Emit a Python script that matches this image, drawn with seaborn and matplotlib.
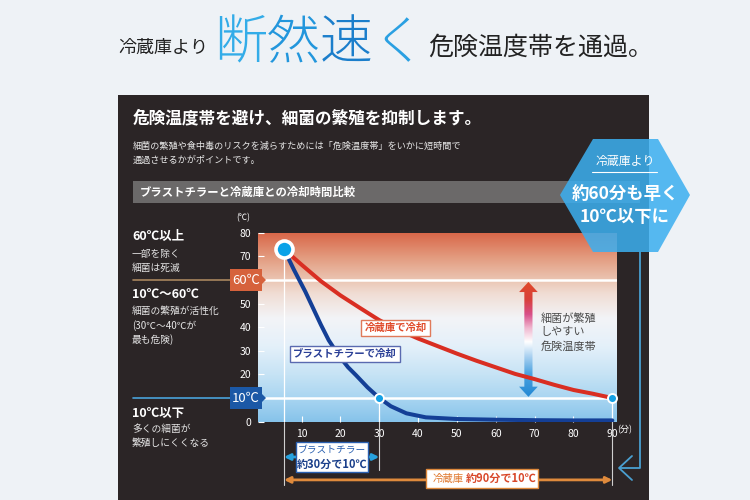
import numpy as np
import matplotlib
matplotlib.use("Agg")
import matplotlib.pyplot as plt
import seaborn as sns
from matplotlib.patches import Rectangle, Polygon
from matplotlib.colors import LinearSegmentedColormap
from matplotlib.lines import Line2D

sns.set_style("white")
plt.rcParams['font.family'] = ['Noto Sans CJK JP', 'DejaVu Sans']

# ---------------- data ----------------
fridge_min = [5.5, 10, 15, 20, 25, 30, 35, 40, 45, 50, 55, 60, 65, 70, 75, 80, 85, 90]
fridge_temp = [73, 66.5, 59.5, 53.5, 48.2, 43, 38.8, 35.2, 32, 28.8, 25.8, 23, 20.2, 18, 15.6, 13.4, 11.8, 10]
chiller_min = [5.5, 8, 11, 13, 15, 17, 19.5, 22, 24, 27, 30, 33, 37, 42, 50, 60, 70, 80, 90]
chiller_temp = [73, 64.5, 55, 48, 41, 34.5, 28.2, 23, 19.7, 14.5, 10, 6.5, 3.5, 1.8, 1.1, 0.8, 0.6, 0.5, 0.5]
x_ticks = [10, 20, 30, 40, 50, 60, 70, 80, 90]
y_ticks = [0, 20, 30, 40, 50, 70, 80]
start_min, start_temp = 5.5, 73
chiller_end, fridge_end, target_temp = 30, 90, 10
upper_temp = 60
headline_chars = ["断", "然", "速", "く"]
headline_colors = ['#33ace8', '#2296dc', '#1b7ecb', '#2aa0e2']

W, H = 750, 500
fig = plt.figure(figsize=(7.5, 5), dpi=100)
fig.patch.set_facecolor('#eef2f6')


def P(x, y):
    return (x / W, 1 - y / H)


def rect_px(x0, y0, x1, y1, **kw):
    r = Rectangle(P(x0, y1), (x1 - x0) / W, (y1 - y0) / H, transform=fig.transFigure, **kw)
    fig.add_artist(r)
    return r


def poly_px(pts, **kw):
    p = Polygon([P(x, y) for x, y in pts], closed=True, transform=fig.transFigure, **kw)
    fig.add_artist(p)
    return p


def line_px(xs, ys, **kw):
    l = Line2D([x / W for x in xs], [1 - y / H for y in ys], transform=fig.transFigure, **kw)
    fig.add_artist(l)
    return l


def text_px(x, y, s, **kw):
    return fig.text(x / W, 1 - y / H, s, **kw)


# ---------------- title ----------------
text_px(118, 48, "冷蔵庫より", fontsize=13, color='#222222', va='center', ha='left')
for i, (ch, col) in enumerate(zip(headline_chars, headline_colors)):
    text_px(214 + i * 53, 44, ch, fontsize=38, fontweight='light', color=col,
            va='center', ha='left')
text_px(428, 48, "危険温度帯を通過。", fontsize=18, color='#222222', va='center', ha='left')

# ---------------- dark panel ----------------
rect_px(118, 95, 649, 500, fc='#2b2526', ec='none', zorder=-5)
text_px(133, 118, "危険温度帯を避け、細菌の繁殖を抑制します。", fontsize=12, fontweight='bold',
        color='white', va='center')
text_px(133, 146, "細菌の繁殖や食中毒のリスクを減らすためには「危険温度帯」をいかに短時間で",
        fontsize=6.6, color='#e8e8e8', va='center')
text_px(133, 160, "通過させるかがポイントです。", fontsize=6.6, color='#e8e8e8', va='center')
rect_px(133, 181, 640, 203, fc='#6b6969', ec='none', zorder=-4)
text_px(140, 192, "ブラストチラーと冷蔵庫との冷却時間比較", fontsize=8.2, fontweight='bold',
        color='white', va='center')

# ---------------- left explanation ----------------
lc = '#e6e6e6'
text_px(132, 236, "60℃以上", fontsize=9, fontweight='bold', color='white', va='center')
text_px(132, 254, "一部を除く", fontsize=7, color=lc, va='center')
text_px(132, 268, "細菌は死滅", fontsize=7, color=lc, va='center')
text_px(132, 295, "10℃〜60℃", fontsize=9, fontweight='bold', color='white', va='center')
text_px(132, 311, "細菌の繁殖が活性化", fontsize=7, color=lc, va='center')
text_px(132, 326, "(30℃〜40℃が", fontsize=7, color=lc, va='center')
text_px(132, 340, "最も危険)", fontsize=7, color=lc, va='center')
text_px(132, 413, "10℃以下", fontsize=9, fontweight='bold', color='white', va='center')
text_px(132, 429, "多くの細菌が", fontsize=7, color=lc, va='center')
text_px(132, 443, "繁殖しにくくなる", fontsize=7, color=lc, va='center')

line_px([133, 231], [280, 280], color='#a8865e', lw=1.2)
line_px([133, 231], [398, 398], color='#4aa2da', lw=1.2)

# ---------------- chart axes ----------------
ax = fig.add_axes([258 / W, 1 - 421.6 / H, (617 - 258) / W, (421.6 - 232.8) / H])
ax.patch.set_alpha(0)
XL, XR, YB, YT = -1.2, 91.2, 0, 80

bg_cmap = LinearSegmentedColormap.from_list('bg', [
    (0.0, '#86c3ea'), (0.125, '#a9d5f1'), (0.25, '#c6e3f5'), (0.4, '#e4f0fa'),
    (0.55, '#f3f4f7'), (0.68, '#f0ddd4'), (0.75, '#ebc6b4'), (0.87, '#e39c80'),
    (1.0, '#d9684a')])
ax.imshow(np.linspace(0, 1, 256).reshape(-1, 1), extent=(XL, XR, YB, YT), origin='lower',
          cmap=bg_cmap, aspect='auto', zorder=0)

ax.axhline(upper_temp, color='white', lw=1.8, zorder=1)
ax.axhline(target_temp, color='white', lw=1.8, zorder=1)

# vertical guide lines
ax.plot([start_min, start_min], [0, start_temp], color='white', lw=0.9, zorder=1)
ax.plot([chiller_end, chiller_end], [0, target_temp], color='white', lw=0.9, zorder=1)
ax.plot([fridge_end, fridge_end], [0, target_temp], color='white', lw=0.9, zorder=1)
ax.plot([start_min, start_min], [-26.9, 0], color='#cfcfcf', lw=0.8, clip_on=False)
ax.plot([chiller_end, chiller_end], [-20.6, 0], color='#cfcfcf', lw=0.8, clip_on=False)
ax.plot([fridge_end, fridge_end], [-26.9, 0], color='#cfcfcf', lw=0.8, clip_on=False)

# danger zone gradient arrow
xc, hs, hh, hl, y0, y1 = 68.4, 1.05, 2.4, 4.3, 10.5, 59.2
arrow_poly = Polygon([(xc - hs, y0 + hl), (xc - hh, y0 + hl), (xc, y0), (xc + hh, y0 + hl),
                      (xc + hs, y0 + hl), (xc + hs, y1 - hl), (xc + hh, y1 - hl), (xc, y1),
                      (xc - hh, y1 - hl), (xc - hs, y1 - hl)], closed=True,
                     fc='none', ec='none', transform=ax.transData)
ax.add_patch(arrow_poly)
ar_cmap = LinearSegmentedColormap.from_list('ar', [
    (0.0, '#2288d4'), (0.2, '#4aa2e0'), (0.35, '#a8d0f0'), (0.48, '#ffffff'),
    (0.6, '#f0b8d0'), (0.72, '#d8508a'), (0.85, '#d8403a'), (1.0, '#e04a2a')])
im = ax.imshow(np.linspace(0, 1, 256).reshape(-1, 1), extent=(xc - hh, xc + hh, y0, y1),
               origin='lower', cmap=ar_cmap, aspect='auto', zorder=2)
im.set_clip_path(arrow_poly)
ax.text(71.5, 46.2, "細菌が繁殖\nしやすい\n危険温度帯", fontsize=8, color='#4a4a4a',
        va='top', ha='left', linespacing=1.45, zorder=3)

# curves
sns.lineplot(x=fridge_min, y=fridge_temp, ax=ax, color='#d92e22', lw=2.9, zorder=4)
sns.lineplot(x=chiller_min, y=chiller_temp, ax=ax, color='#143f96', lw=2.9, zorder=5)

# points
ax.scatter([start_min], [start_temp], s=150, color='#0aa2e8', edgecolor='white', lw=2.6,
           zorder=7, clip_on=False)
ax.scatter([chiller_end, fridge_end], [target_temp, target_temp], s=42, color='#14a0e4',
           edgecolor='white', lw=1.4, zorder=7, clip_on=False)

# curve labels
ax.text(34.2, 39.6, "冷蔵庫で冷却", fontsize=7.5, fontweight='bold', color='#e04a2a', ha='center',
        va='center', zorder=6,
        bbox=dict(boxstyle='square,pad=0.3', fc='white', ec='#e07a5a', lw=1))
ax.text(21.2, 28.6, "ブラストチラーで冷却", fontsize=7.5, fontweight='bold', color='#2a3f96',
        ha='center', va='center', zorder=6,
        bbox=dict(boxstyle='square,pad=0.3', fc='white', ec='#5a6ab0', lw=1))

# ticks
ax.set_xticks(x_ticks)
ax.set_xticklabels([str(v) for v in x_ticks])
ax.set_yticks(y_ticks)
ax.set_yticklabels([str(v) for v in y_ticks])
ax.tick_params(axis='both', which='both', direction='in', length=4, width=0.8, color='white',
               labelcolor='white', labelsize=7.5, bottom=True, left=True, pad=5)
for sp in ax.spines.values():
    sp.set_visible(False)
ax.set_xlabel("")
ax.set_ylabel("")
ax.set_xlim(XL, XR)
ax.set_ylim(YB, YT)

text_px(243, 218, "(℃)", fontsize=6, color='white', ha='center', va='center')
text_px(617, 430, "(分)", fontsize=6.5, color='white', ha='left', va='center')

# temperature badges
rect_px(230, 269, 262, 291, fc='#d6623c', ec='none', zorder=3)
poly_px([(262, 276), (266, 280), (262, 284)], fc='#d6623c', ec='none', zorder=3)
text_px(246, 280.5, "60℃", fontsize=9.5, color='white', ha='center', va='center', zorder=4)
rect_px(230, 387, 262, 409, fc='#1b58a6', ec='none', zorder=3)
poly_px([(262, 394), (266, 398), (262, 402)], fc='#1b58a6', ec='none', zorder=3)
text_px(246, 398.5, "10℃", fontsize=9.5, color='white', ha='center', va='center', zorder=4)

# bottom arrows
ax.annotate('', xy=(chiller_end, -15.0), xytext=(start_min, -15.0), xycoords='data',
            arrowprops=dict(arrowstyle='<|-|>', color='#27a2de', lw=2, mutation_scale=9,
                            shrinkA=0, shrinkB=0), annotation_clip=False)
ax.annotate('', xy=(fridge_end, -24.7), xytext=(start_min, -24.7), xycoords='data',
            arrowprops=dict(arrowstyle='<|-|>', color='#df8a3c', lw=2, mutation_scale=9,
                            shrinkA=0, shrinkB=0), annotation_clip=False)
rect_px(296, 442, 368, 472, fc='white', ec='#2a60b0', lw=1, zorder=3)
text_px(332, 450, "ブラストチラー", fontsize=7, color='#2a60b0', ha='center', va='center', zorder=4)
text_px(332, 464, "約30分で10℃", fontsize=8, fontweight='bold', color='#1a3f8a',
        ha='center', va='center', zorder=4)
rect_px(426, 469, 538, 488, fc='white', ec='#df8a3c', lw=1, zorder=3)
text_px(433, 478.5, "冷蔵庫", fontsize=7.5, color='#e07a30', ha='left', va='center', zorder=4)
text_px(466, 478.5, "約90分で10℃", fontsize=8, fontweight='bold', color='#d9482a',
        ha='left', va='center', zorder=4)

# hexagon callout
poly_px([(560, 195), (593, 139), (658, 139), (690, 195), (658, 252), (593, 252)],
        fc='#3caff0', ec='none', alpha=0.86, zorder=5)
text_px(625, 161, "冷蔵庫より", fontsize=8.6, color='white', ha='center', va='center', zorder=6)
line_px([592, 657], [172, 172], color='white', lw=0.8, zorder=6)
text_px(625, 194, "約60分も早く", fontsize=12.5, fontweight='bold', color='white',
        ha='center', va='center', zorder=6)
text_px(625, 217, "10℃以下に", fontsize=12.5, fontweight='bold', color='white',
        ha='center', va='center', zorder=6)
line_px([640, 640, 620], [252, 468, 468], color='#4a9fd0', lw=1.3, zorder=5)
line_px([632, 619, 632], [456, 468, 480], color='#4a9fd0', lw=1.3, zorder=5)

fig.savefig("out.png", dpi=100, facecolor=fig.get_facecolor())
